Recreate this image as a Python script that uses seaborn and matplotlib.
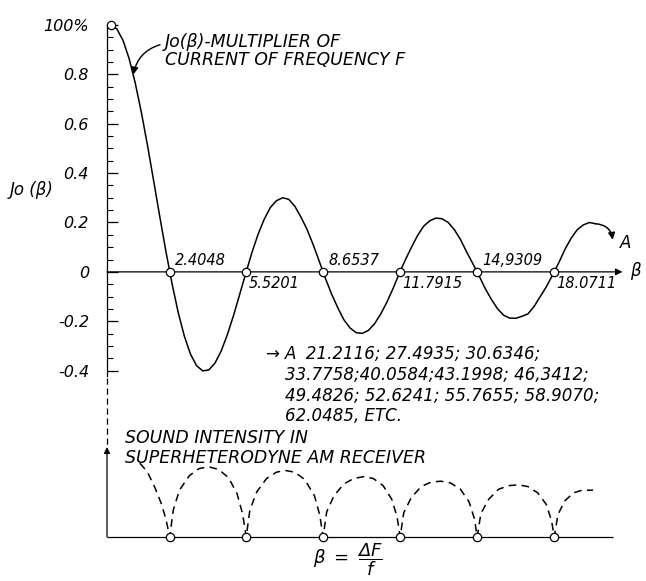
import matplotlib
matplotlib.use("Agg")
import matplotlib.pyplot as plt
import seaborn as sns

# upper curve: Jo(beta)
beta = [0.0, 0.25, 0.5, 0.75, 1.0, 1.25, 1.5, 1.75, 2.0, 2.25,
        2.5, 2.75, 3.0, 3.25, 3.5, 3.75, 4.0, 4.25, 4.5, 4.75,
        5.0, 5.25, 5.5, 5.75, 6.0, 6.25, 6.5, 6.75, 7.0, 7.25,
        7.5, 7.75, 8.0, 8.25, 8.5, 8.75, 9.0, 9.25, 9.5, 9.75,
        10.0, 10.25, 10.5, 10.75, 11.0, 11.25, 11.5, 11.75, 12.0, 12.25,
        12.5, 12.75, 13.0, 13.25, 13.5, 13.75, 14.0, 14.25, 14.5, 14.75,
        15.0, 15.25, 15.5, 15.75, 16.0, 16.25, 16.5, 16.75, 17.0, 17.25,
        17.5, 17.75, 18.0, 18.25, 18.5, 18.75, 19.0, 19.25, 19.5, 19.75]
j0 = [1.0, 0.984, 0.938, 0.864, 0.765, 0.646, 0.512, 0.369, 0.224, 0.083,
      -0.048, -0.164, -0.26, -0.333, -0.38, -0.401, -0.397, -0.369, -0.321, -0.255,
      -0.178, -0.093, -0.007, 0.077, 0.151, 0.212, 0.26, 0.288, 0.3, 0.294,
      0.266, 0.222, 0.172, 0.11, 0.042, -0.027, -0.09, -0.145, -0.194, -0.227,
      -0.246, -0.249, -0.237, -0.21, -0.171, -0.123, -0.068, -0.008, 0.048, 0.099,
      0.147, 0.185, 0.207, 0.218, 0.215, 0.2, 0.171, 0.131, 0.081, 0.034,
      -0.014, -0.066, -0.11, -0.148, -0.175, -0.187, -0.188, -0.18, -0.17, -0.14,
      -0.1, -0.06, -0.013, 0.036, 0.09, 0.135, 0.17, 0.19, 0.2, 0.195]

zeros = [2.4048, 5.5201, 8.6537, 11.7915, 14.9309, 18.0711]
zero_labels = ["2.4048", "5.5201", "8.6537", "11.7915", "14,9309", "18.0711"]

yticks = [-0.4, -0.2, 0.0, 0.2, 0.4, 0.6, 0.8, 1.0]
ytick_labels = ["-0.4", "-0.2", "0", "0.2", "0.4", "0.6", "0.8", "100%"]

# lower curve: sound intensity (dashed arches), arbitrary units
sound_beta = [1.19, 1.5, 1.8, 2.05, 2.25, 2.4048,
              2.55, 2.8, 3.2, 3.6, 4.0, 4.4, 4.8, 5.15, 5.38, 5.5201,
              5.67, 5.95, 6.35, 6.75, 7.1, 7.5, 7.9, 8.3, 8.52, 8.6537,
              8.8, 9.1, 9.5, 9.9, 10.3, 10.7, 11.1, 11.45, 11.67, 11.7915,
              11.94, 12.25, 12.65, 13.05, 13.45, 13.85, 14.25, 14.6, 14.82, 14.9309,
              15.08, 15.4, 15.8, 16.2, 16.6, 17.0, 17.4, 17.75, 17.96, 18.0711,
              18.22, 18.5, 18.85, 19.2, 19.65]
sound_level = [0.82, 0.72, 0.55, 0.38, 0.2, 0.0,
               0.3, 0.52, 0.68, 0.76, 0.78, 0.75, 0.66, 0.48, 0.25, 0.0,
               0.3, 0.5, 0.65, 0.72, 0.74, 0.72, 0.64, 0.46, 0.24, 0.0,
               0.28, 0.46, 0.59, 0.65, 0.67, 0.65, 0.57, 0.42, 0.22, 0.0,
               0.27, 0.44, 0.56, 0.61, 0.62, 0.6, 0.53, 0.39, 0.2, 0.0,
               0.26, 0.42, 0.53, 0.57, 0.58, 0.56, 0.49, 0.36, 0.18, 0.0,
               0.25, 0.4, 0.49, 0.52, 0.52]

roots_text = ("A  21.2116; 27.4935; 30.6346;\n"
              "33.7758;40.0584;43.1998; 46,3412;\n"
              "49.4826; 52.6241; 55.7655; 58.9070;\n"
              "62.0485, ETC.")

sns.set_style("white")
plt.rcParams["font.family"] = ["DejaVu Sans"]
plt.rcParams["font.style"] = "italic"
plt.rcParams["text.color"] = "black"
plt.rcParams["ytick.color"] = "black"
plt.rcParams["ytick.labelcolor"] = "black"

W, H = 646, 581
fig = plt.figure(figsize=(W / 100, H / 100), dpi=100)


def box(l, t, r, b):
    return [l / W, 1 - b / H, (r - l) / W, (b - t) / H]


ax = fig.add_axes(box(107, 20, 622, 383))
ax2 = fig.add_axes(box(107, 447, 622, 537), sharex=ax)
x0 = -0.15
ax.set_xlim(x0, 20.83)
ax.set_ylim(-0.45, 1.02)
ax2.set_ylim(0, 1)

for a in (ax, ax2):
    for s in a.spines.values():
        s.set_visible(False)
ax.spines["left"].set_visible(True)
ax.spines["left"].set_bounds(-0.42, 1.0)
ax.spines["left"].set_linewidth(0.9)
ax.spines["left"].set_color("black")

ax.set_xticks([])
ax2.set_xticks([])
ax2.set_yticks([])
ax.set_yticks(yticks, ytick_labels)
ax.set_yticks([v / 100 for v in range(-40, 101, 5)], minor=True)
ax.tick_params(axis="y", which="both", left=True, direction="in", color="black")
ax.tick_params(axis="y", which="major", length=8, width=0.9, pad=13,
               labelsize=11.5)
ax.tick_params(axis="y", which="minor", length=4.5, width=0.8)

# upper curve
sns.lineplot(x=beta, y=j0, ax=ax, color="black", lw=1.1)
ax.annotate("", xy=(20.85, 0), xytext=(x0, 0), annotation_clip=False,
            arrowprops=dict(arrowstyle="-|>", color="black", lw=0.9,
                            mutation_scale=10, shrinkA=0, shrinkB=0))
ax.annotate("", xy=(20.45, 0.13), xytext=(19.75, 0.195), annotation_clip=False,
            arrowprops=dict(arrowstyle="-|>", color="black", lw=1.1,
                            connectionstyle="arc3,rad=-0.4",
                            mutation_scale=10, shrinkA=0, shrinkB=0))
sns.scatterplot(x=[0.0] + zeros, y=[1.0] + [0.0] * len(zeros), ax=ax, s=36,
                color="white", edgecolor="black", linewidth=0.9, zorder=5,
                clip_on=False)

for i, (z, lab) in enumerate(zip(zeros, zero_labels)):
    if i % 2 == 0:
        ax.annotate(lab, xy=(z, 0), xytext=(4, 3), textcoords="offset points",
                    ha="left", va="bottom", fontsize=10.5)
    else:
        ax.annotate(lab, xy=(z, 0), xytext=(1.5, -3), textcoords="offset points",
                    ha="left", va="top", fontsize=10.5)

# dashed link between the two vertical axes
ax.plot([x0, x0], [-0.43, -0.70], color="black", lw=0.9, ls=(0, (5, 3)),
        clip_on=False)

ax.text(2.21, 0.895, "Jo(β)-MULTIPLIER OF\nCURRENT OF FREQUENCY F",
        fontsize=12.5, ha="left", va="center", linespacing=1.05)
ax.annotate("", xy=(0.93, 0.8), xytext=(2.01, 0.92),
            arrowprops=dict(arrowstyle="-|>", color="black", lw=1.0,
                            connectionstyle="arc3,rad=0.3",
                            mutation_scale=10, shrinkA=0, shrinkB=0))

fig.text(10 / W, 1 - 190 / H, "Jo (β)", fontsize=12, ha="left", va="center")
fig.text(620 / W, 1 - 243 / H, "A", fontsize=12, ha="left", va="center")
fig.text(630 / W, 1 - 271 / H, "β", fontsize=12, ha="left", va="center")

fig.text(265 / W, 1 - 355 / H, "→", fontsize=12, ha="left", va="center")
fig.text(285 / W, 1 - 345 / H, roots_text, fontsize=12, ha="left", va="top",
         linespacing=1.2)

fig.text(125 / W, 1 - 448 / H, "SOUND INTENSITY IN\nSUPERHETERODYNE AM RECEIVER",
         fontsize=12.5, ha="left", va="center", linespacing=1.1)

# lower curve
sns.lineplot(x=sound_beta, y=sound_level, ax=ax2, color="black", lw=1.1,
             linestyle=(0, (5, 3.5)))
ax2.hlines(0, x0, 20.46, color="black", lw=0.9, clip_on=False)
ax2.annotate("", xy=(x0, 1.0), xytext=(x0, 0), annotation_clip=False,
             arrowprops=dict(arrowstyle="-|>", color="black", lw=0.9,
                             mutation_scale=9, shrinkA=0, shrinkB=0))
sns.scatterplot(x=zeros, y=[0.0] * len(zeros), ax=ax2, s=36, color="white",
                edgecolor="black", linewidth=0.9, zorder=5, clip_on=False)

fig.text(348 / W, 1 - 560 / H, r"$\beta\ =\ \dfrac{\Delta F}{f}$", fontsize=13,
         ha="center", va="center")

fig.savefig("out.png", dpi=100)
